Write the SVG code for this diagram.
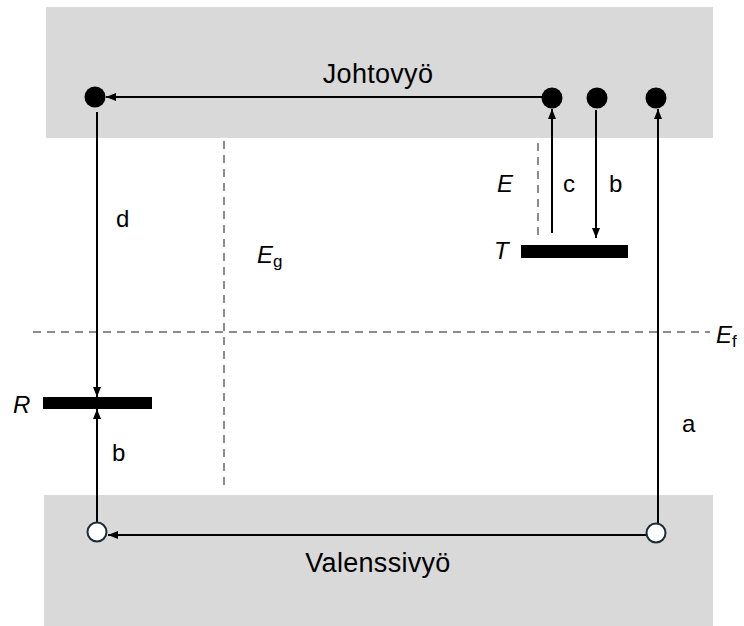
<svg xmlns="http://www.w3.org/2000/svg" width="744" height="626" viewBox="0 0 744 626">
<style>
.band{fill:#d9d9d9}
.ln{stroke:#000;stroke-width:2;fill:none}
.dash{stroke:#8c8c8c;stroke-width:2;stroke-dasharray:8 6;fill:none}
.lvl{fill:#000}
.el{fill:#000}
.hole{fill:#fff;stroke:#1a2a3a;stroke-width:2}
text{font-family:"Liberation Sans",Arial,sans-serif;fill:#000}
.big{font-size:27px;letter-spacing:0.3px}
.lab{font-size:24px}
.it{font-style:italic}
.sub{font-size:17px;font-style:normal}
</style>
<defs>
<marker id="ah" markerUnits="userSpaceOnUse" markerWidth="10" markerHeight="8" refX="10" refY="4" orient="auto">
<path d="M0,0 L10,4 L0,8 z" fill="#000"/>
</marker>
</defs>
<g id="conduction-band"><rect class="band" x="46" y="7" width="667" height="131"/><text class="big" x="378" y="83" text-anchor="middle">Johtovyö</text></g>
<g id="valence-band"><rect class="band" x="44" y="495" width="669" height="131"/><text class="big" x="378" y="572" text-anchor="middle">Valenssivyö</text></g>
<g id="guides">
<line class="dash" x1="224" y1="141" x2="224" y2="490"/>
<line class="dash" x1="33" y1="332" x2="710" y2="332"/>
<line class="dash" x1="538" y1="143" x2="538" y2="237"/>
</g>
<g id="level-T"><rect class="lvl" x="521" y="245" width="107" height="13"/><text class="lab it" x="494" y="259">T</text></g>
<g id="level-R"><rect class="lvl" x="43" y="397" width="109" height="12"/><text class="lab it" x="13" y="413">R</text></g>
<g id="connectors">
<line class="ln" x1="542" y1="97" x2="106" y2="97" marker-end="url(#ah)"/>
<line class="ln" x1="97" y1="112" x2="97" y2="397" marker-end="url(#ah)"/>
<line class="ln" x1="97" y1="522" x2="97" y2="409" marker-end="url(#ah)"/>
<line class="ln" x1="646" y1="535" x2="108" y2="535" marker-end="url(#ah)"/>
<line class="ln" x1="658" y1="523" x2="658" y2="109" marker-end="url(#ah)"/>
<line class="ln" x1="552" y1="233" x2="552" y2="109" marker-end="url(#ah)"/>
<line class="ln" x1="596" y1="110" x2="596" y2="238" marker-end="url(#ah)"/>
</g>
<g id="electrons">
<circle class="el" cx="95" cy="97" r="10.5"/>
<circle class="el" cx="552" cy="98" r="10.5"/>
<circle class="el" cx="597" cy="98" r="10.5"/>
<circle class="el" cx="656" cy="98" r="10.5"/>
</g>
<g id="holes">
<circle class="hole" cx="97" cy="532" r="9.5"/>
<circle class="hole" cx="656" cy="533" r="9.5"/>
</g>
<g id="labels">
<text class="lab" x="116" y="227">d</text>
<text class="lab it" x="257" y="263">E<tspan class="sub" dy="4">g</tspan></text>
<text class="lab it" x="497" y="192">E</text>
<text class="lab" x="563" y="192">c</text>
<text class="lab" x="609" y="192">b</text>
<text class="lab" x="112" y="461">b</text>
<text class="lab" x="682" y="432">a</text>
<text class="lab it" x="716" y="343">E<tspan class="sub" dy="4">f</tspan></text>
</g>
</svg>
